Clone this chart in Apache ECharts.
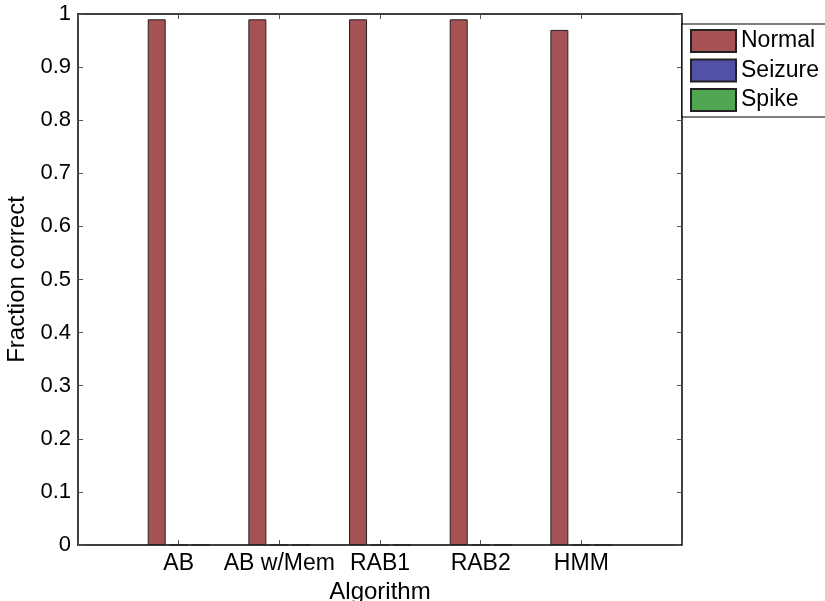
<!DOCTYPE html>
<html>
<head>
<meta charset="utf-8">
<script src="https://cdn.jsdelivr.net/npm/echarts@6/dist/echarts.min.js"></script>
<style>
  html, body { margin: 0; padding: 0; background: #fff; }
  #chart { width: 825px; height: 601px; }
</style>
</head>
<body>
<div id="chart"></div>
<script>
// data
const categories = ['AB', 'AB w/Mem', 'RAB1', 'RAB2', 'HMM']
const normal = [0.99, 0.99, 0.99, 0.99, 0.97]
const seizure = [0, 0, 0, 0, 0]
const spike = [0, 0, 0, 0, 0]
const yTicks = [0, 0.1, 0.2, 0.3, 0.4, 0.5, 0.6, 0.7, 0.8, 0.9, 1]

// axis runs one slot past the first and last group, like the matlab plot
const axisCats = [''].concat(categories, [''])
const pad = (arr) => ['-'].concat(arr, ['-'])

const font = '"Liberation Sans", Arial, sans-serif'

const chart = echarts.init(document.getElementById('chart'))

const tickStyle = {
  show: true,
  inside: true,
  length: 5,
  lineStyle: {color: '#555', width: 1}
}
const lineStyle = {lineStyle: {color: '#000', width: 1.5}}

const barSeries = (name, data, color) => ({
  name: name,
  type: 'bar',
  data: pad(data),
  barWidth: 18,
  barGap: '22%',
  itemStyle: {color: color, borderColor: '#222', borderWidth: 1},
  emphasis: {disabled: true}
})

chart.setOption({
  animation: false,
  textStyle: {fontFamily: font},
  grid: {left: 78, right: 143, top: 14, bottom: 56, containLabel: false, outerBoundsMode: 'none'},
  legend: {
    orient: 'vertical',
    left: 682,
    top: 24,
    itemWidth: 45,
    itemHeight: 22,
    itemGap: 5.5,
    padding: [5, 40, 5, 8],
    borderColor: '#000',
    borderWidth: 1.2,
    backgroundColor: '#fff',
    icon: 'rect',
    textStyle: {fontSize: 23, color: '#000', fontFamily: font},
    data: ['Normal', 'Seizure', 'Spike']
  },
  xAxis: [
    {
      type: 'category',
      data: axisCats,
      boundaryGap: false,
      position: 'bottom',
      name: 'Algorithm',
      nameLocation: 'middle',
      nameGap: 33,
      nameTextStyle: {fontSize: 24, color: '#000', fontFamily: font},
      axisLine: Object.assign({onZero: false}, lineStyle),
      axisTick: Object.assign({interval: 0}, tickStyle),
      axisLabel: {interval: 0, fontSize: 23, color: '#000', margin: 7, fontFamily: font},
      splitLine: {show: false}
    },
    {
      type: 'category',
      data: axisCats,
      boundaryGap: false,
      position: 'top',
      axisLine: Object.assign({onZero: false}, lineStyle),
      axisTick: Object.assign({interval: 0}, tickStyle),
      axisLabel: {show: false},
      splitLine: {show: false}
    }
  ],
  yAxis: [
    {
      type: 'value',
      min: yTicks[0],
      max: yTicks[yTicks.length - 1],
      interval: 0.1,
      position: 'left',
      name: 'Fraction correct',
      nameLocation: 'middle',
      nameGap: 49,
      nameTextStyle: {fontSize: 24, color: '#000', fontFamily: font},
      axisLine: Object.assign({show: true, onZero: false}, lineStyle),
      axisTick: tickStyle,
      axisLabel: {fontSize: 22, color: '#000', margin: 7, fontFamily: font},
      splitLine: {show: false}
    },
    {
      type: 'value',
      min: yTicks[0],
      max: yTicks[yTicks.length - 1],
      interval: 0.1,
      position: 'right',
      axisLine: Object.assign({show: true, onZero: false}, lineStyle),
      axisTick: tickStyle,
      axisLabel: {show: false},
      splitLine: {show: false}
    }
  ],
  series: [
    barSeries('Normal', normal, '#a65154'),
    barSeries('Seizure', seizure, '#5151a8'),
    barSeries('Spike', spike, '#51a651')
  ]
})
</script>
</body>
</html>
